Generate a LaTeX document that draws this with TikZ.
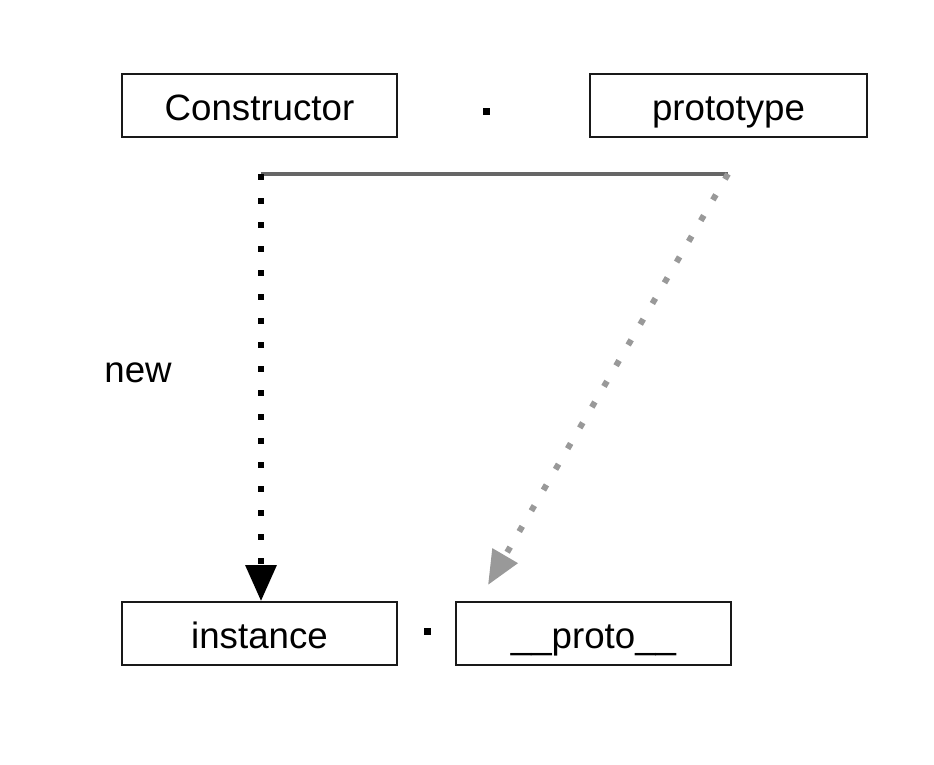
\documentclass[tikz,border=0pt]{standalone}
\usepackage{fontspec}
\setmainfont{Liberation Sans}
\usetikzlibrary{arrows.meta}
\definecolor{linegray}{HTML}{666666}
\definecolor{dotgray}{HTML}{999999}
\begin{document}
\begin{tikzpicture}[x=0.75pt,y=-0.75pt,
  box/.style={draw=black!90,line width=1.5pt,minimum width=206pt,minimum height=47pt,inner sep=0pt,
    text height=22pt,text depth=0pt,
    font=\fontsize{27.5pt}{33pt}\selectfont},
  lbl/.style={font=\fontsize{27.5pt}{33pt}\selectfont,inner sep=0pt},
  sq/.style={fill=black,minimum size=5.25pt,inner sep=0pt},
  bar/.style={draw=linegray,line width=3pt},
  blackdots/.style={draw=black,line width=4.5pt,dash pattern=on 4.5pt off 13.5pt,
    -{Triangle[length=27pt,width=22.5pt]}},
  graydots/.style={draw=dotgray,line width=4.5pt,dash pattern=on 4.5pt off 13.5pt,
    -{Triangle[length=25.5pt,width=21pt]}}]
\useasboundingbox (0,0) rectangle (934,764);
\node[box,minimum width=206.25pt] (ctor) at (259.5,105.5) {Constructor};
\node[box,minimum width=207.75pt] (proto) at (728.5,105.5) {prototype};
\node[sq] (dot1) at (486,111.5) {};
\node[box,minimum width=206.25pt] (inst) at (259.5,633.5) {instance};
\node[box,minimum width=206.25pt] (pp) at (593.5,633.5) {\_\_proto\_\_};
\node[sq] (dot2) at (427,631.5) {};
\node[lbl] (new) at (138,373) {new};
\coordinate (c1) at (261,174);
\coordinate (c2) at (728,174);
\coordinate (g) at (488,585);
\draw[bar] (c1) -- (c2);
\draw[blackdots] (c1) -- (inst.north -| c1);
\draw[graydots] (c2) -- (g);
\end{tikzpicture}
\end{document}
